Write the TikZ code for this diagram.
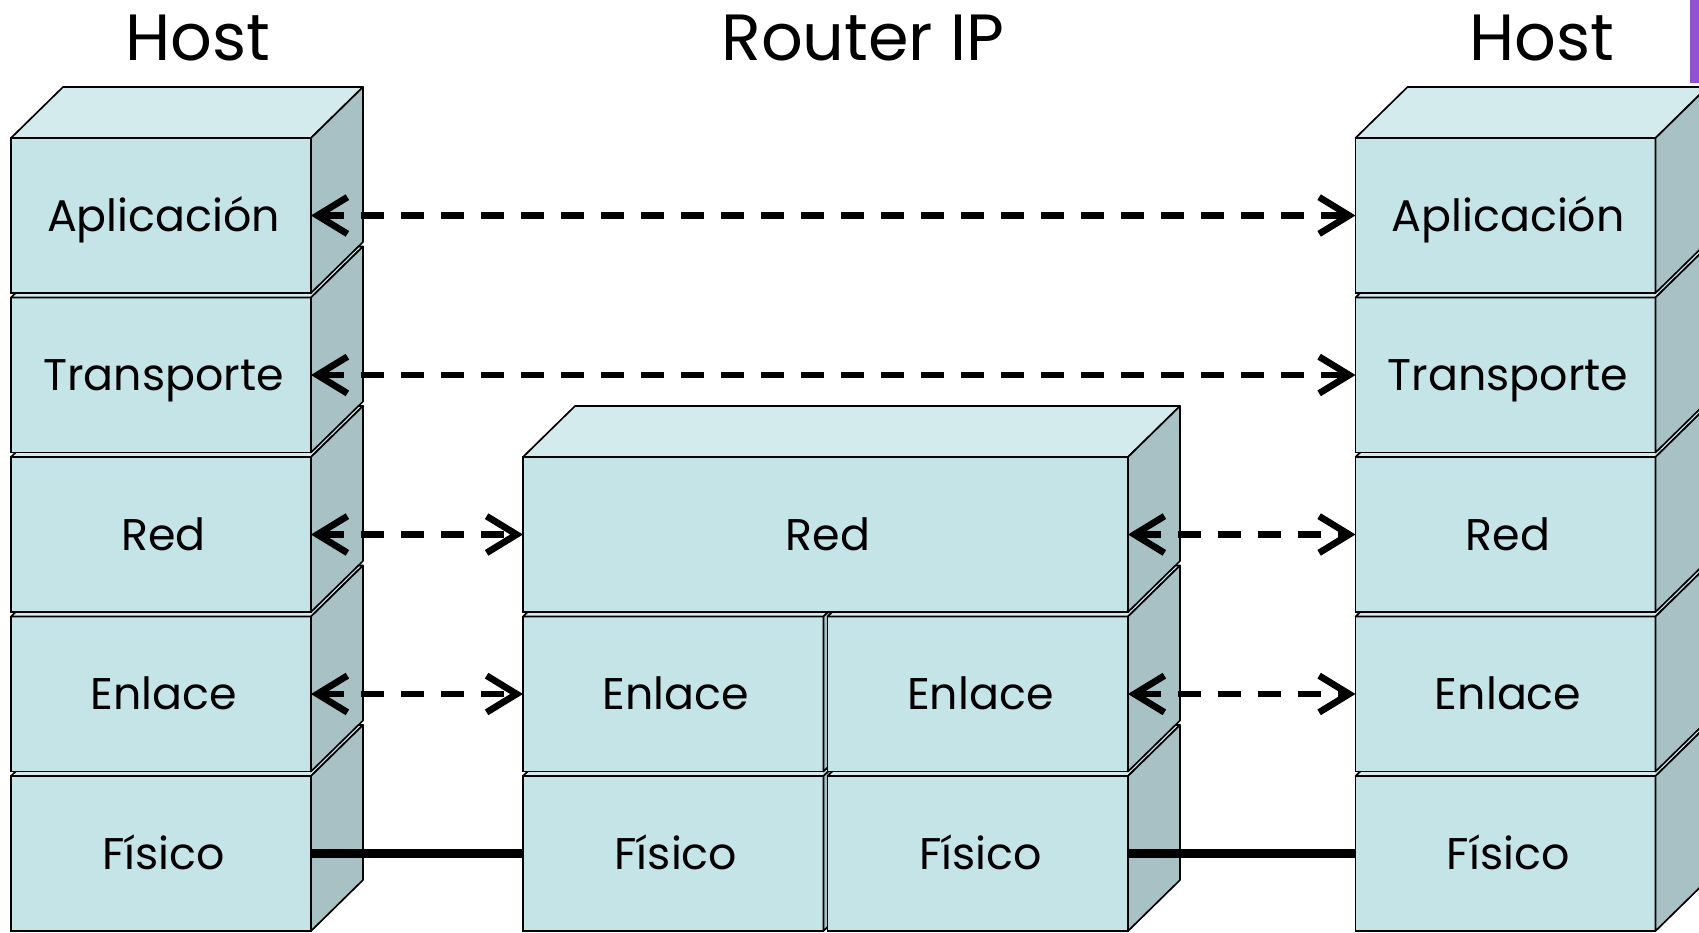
\documentclass[tikz,border=0pt]{standalone}
\usepackage{fontspec}
\setmainfont{Poppins}
\usetikzlibrary{arrows.meta}
\definecolor{frontc}{RGB}{196,228,231}
\definecolor{topc}{RGB}{211,235,237}
\definecolor{sidec}{RGB}{167,193,196}
\definecolor{purplebar}{RGB}{142,82,210}
\newcommand{\mkcube}[5]{%
  \node[layerbox,minimum width=#4] (#1) at (#2,#3) {\kern1.6pt #5};
  \draw[topface] (#1.north west) -- ++(52,-51) -- ([shift={(52,-51)}]#1.north east) -- (#1.north east) -- cycle;
  \draw[sideface] (#1.north east) -- ++(52,-51) -- ++(0,155) -- (#1.south east) -- cycle;
}
\begin{document}
\begin{tikzpicture}[x=0.3pt,y=-0.3pt,
  layerbox/.style={draw=black,line width=0.5pt,fill=frontc,inner sep=0pt,outer sep=0pt,
    anchor=north west,minimum height=46.5pt,text height=9.4pt,text depth=0pt,
    font=\fontsize{13.3}{16}\selectfont},
  topface/.style={draw=black,line width=0.5pt,fill=topc,line join=round},
  sideface/.style={draw=black,line width=0.5pt,fill=sidec,line join=round},
  titletext/.style={font=\fontsize{19.6}{24}\selectfont,inner sep=0pt},
  dasharrow/.style={line width=2pt,dash pattern=on 6.9pt off 5.1pt,
    arrows={Straight Barb[length=9pt,width=11pt]-Straight Barb[length=9pt,width=11pt]}},
  phys/.style={line width=2.6pt}]
\useasboundingbox (0,0) rectangle (1699,932);
\clip (0,0) rectangle (1699,932);
\fill[white] (0,0) rectangle (1699,932);
\fill[purplebar] (1690,0) rectangle (1699,83);
% titles
\node[titletext] (t1) at (198,38) {Host};
\node[titletext] (t2) at (863,38) {Router IP};
\node[titletext] (t3) at (1542,38) {Host};
% left host
\mkcube{lfis}{11}{776}{90pt}{Físico}
\mkcube{lenl}{11}{616.5}{90pt}{Enlace}
\mkcube{lred}{11}{457}{90pt}{Red}
\mkcube{ltra}{11}{297.5}{90pt}{Transporte}
\mkcube{lapp}{11}{138}{90pt}{Aplicación}
% router
\mkcube{rtfisa}{523}{776}{90.15pt}{Físico}
\mkcube{rtfisb}{827.5}{776}{90.15pt}{Físico}
\mkcube{rtenla}{523}{616.5}{90.15pt}{Enlace}
\mkcube{rtenlb}{827.5}{616.5}{90.15pt}{Enlace}
\mkcube{rtred}{523}{457}{181.5pt}{Red}
% right host
\mkcube{rfis}{1355.5}{776}{90pt}{Físico}
\mkcube{renl}{1355.5}{616.5}{90pt}{Enlace}
\mkcube{rred}{1355.5}{457}{90pt}{Red}
\mkcube{rtra}{1355.5}{297.5}{90pt}{Transporte}
\mkcube{rapp}{1355.5}{138}{90pt}{Aplicación}
% connectors
\draw[dasharrow] (lapp.east) -- (rapp.west);
\draw[dasharrow] (ltra.east) -- (rtra.west);
\draw[dasharrow] (lred.east) -- (rtred.west);
\draw[dasharrow] (rtred.east) -- (rred.west);
\draw[dasharrow] (lenl.east) -- (rtenla.west);
\draw[dasharrow] (rtenlb.east) -- (renl.west);
\draw[phys] (lfis.east) -- (rtfisa.west);
\draw[phys] (rtfisb.east) -- (rfis.west);
\end{tikzpicture}
\end{document}
